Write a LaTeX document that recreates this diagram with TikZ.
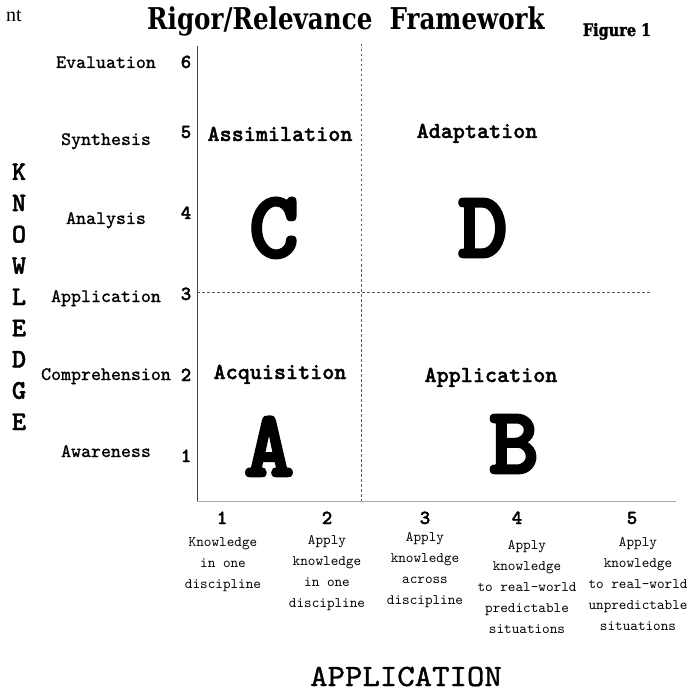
\documentclass[tikz,border=0pt]{standalone}
\usepackage{fontspec}
\setmainfont{Liberation Serif}
\newfontfamily\mono{lmmono10-regular.otf}
\newfontfamily\monom{lmmono10-regular.otf}[FakeBold=1]
\newfontfamily\monob{lmmonolt10-bold.otf}[FakeBold=1.5]
\newfontfamily\monobb{lmmonolt10-bold.otf}[FakeBold=3]
\newfontfamily\titlefont{DejaVu Serif}
\newfontfamily\figfont{DejaVu Serif}[FakeBold=2]
\tikzset{
  lbl/.style={font=\monom\fontsize{19}{19}\selectfont, anchor=base, inner sep=0pt},
  num/.style={font=\monob\fontsize{20}{20}\selectfont, anchor=base, inner sep=0pt},
  quad/.style={font=\monob\fontsize{23}{23}\selectfont, anchor=base, inner sep=0pt},
  big/.style={font=\monobb\fontsize{95}{95}\selectfont, anchor=base, inner sep=0pt},
  kl/.style={font=\monob\fontsize{27}{27}\selectfont, anchor=base, inner sep=0pt},
  desc/.style={font=\mono\fontsize{14.5}{21}\selectfont, anchor=north, align=center, inner sep=0pt},
  axis/.style={line width=0.9pt, black!75},
  haxis/.style={line width=1pt, black!35},
  divider/.style={line width=0.9pt, black!65, dash pattern=on 2.5pt off 2.5pt},
}
\begin{document}
\begin{tikzpicture}[x=1pt,y=-1pt]
\useasboundingbox (0,0) rectangle (700,692);
% header
\node[font=\fontsize{20}{20}\selectfont, anchor=base east, inner sep=0pt] (nt) at (22,22) {nt};
\node[font=\titlefont\bfseries\fontsize{30}{30}\selectfont, anchor=base, inner sep=0pt] (title) at (346,30) {\scalebox{0.82}[1]{Rigor/Relevance\ \ Framework}};
\node[font=\figfont\bfseries\fontsize{17}{17}\selectfont, anchor=base, inner sep=0pt] (fig) at (617,36) {\scalebox{0.85}[1]{Figure 1}};
% axes
\coordinate (o) at (197,501);
\coordinate (ytop) at (197,46);
\coordinate (xend) at (676,501);
\coordinate (vtop) at (361,44);
\coordinate (vbot) at (361,501);
\coordinate (hl) at (197,292);
\coordinate (hr) at (651,292);
\draw[axis] (ytop) -- (o);
\draw[haxis] (o) -- (xend);
\draw[divider] (vtop) -- (vbot);
\draw[divider] (hl) -- (hr);
% knowledge levels
\node[lbl] (l6) at (106,68) {Evaluation};
\node[lbl] (l5) at (106,145) {Synthesis};
\node[lbl] (l4) at (106,224) {Analysis};
\node[lbl] (l3) at (106,302) {Application};
\node[lbl] (l2) at (106,380) {Comprehension};
\node[lbl] (l1) at (106,457) {Awareness};
\node[num] (n6) at (186,68) {6};
\node[num] (n5) at (186,138) {5};
\node[num] (n4) at (186,219) {4};
\node[num] (n3) at (186,300) {3};
\node[num] (n2) at (186,381) {2};
\node[num] (n1) at (186,462) {1};
% KNOWLEDGE vertical
\foreach \ch [count=\i from 0] in {K,N,O,W,L,E,D,G,E}{
  \node[kl] (k\i) at (19,{180+31.25*\i}) {\ch};
}
% quadrants
\node[quad] (qc) at (280,141) {Assimilation};
\node[quad] (qd) at (477,138) {Adaptation};
\node[quad] (qa) at (280,379) {Acquisition};
\node[quad] (qb) at (491,382) {Application};
\node[big] (C) at (274,257) {C};
\node[big] (D) at (483,257) {D};
\node[big] (A) at (269,476) {A};
\node[big] (B) at (514,473) {B};
% application levels
\node[num] (a1) at (222,524) {1};
\node[num] (a2) at (327,524) {2};
\node[num] (a3) at (425,524) {3};
\node[num] (a4) at (517,524) {4};
\node[num] (a5) at (632,524) {5};
\node[desc] (d1) at (223,537) {Knowledge\\in one\\discipline};
\node[desc] (d2) at (327,535) {Apply\\knowledge\\in one\\discipline};
\node[desc] (d3) at (425,532) {Apply\\knowledge\\across\\discipline};
\node[desc] (d4) at (527,540) {Apply\\knowledge\\to real-world\\predictable\\situations};
\node[desc] (d5) at (638,537) {Apply\\knowledge\\to real-world\\unpredictable\\situations};
\node[font=\monom\fontsize{31}{31}\selectfont, anchor=base, inner sep=0pt] (app) at (406,686) {\scalebox{1.07}[1]{APPLICATION}};
\end{tikzpicture}
\end{document}
